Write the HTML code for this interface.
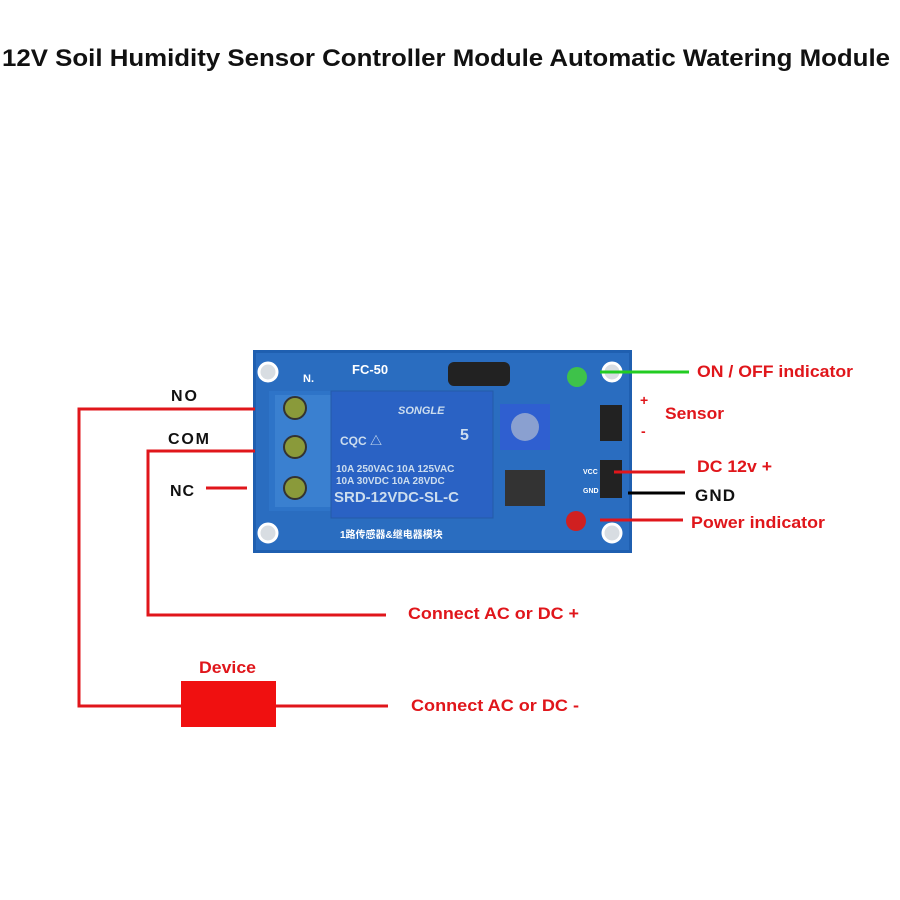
<!DOCTYPE html>
<html><head><meta charset="utf-8"><style>
body{margin:0;background:#fff}
svg{display:block}
text{font-family:"Liberation Sans","Noto Sans CJK SC",sans-serif;font-weight:bold}
</style></head><body>
<svg width="900" height="900" viewBox="0 0 900 900">
<rect width="900" height="900" fill="#fff"/>
<text x="2" y="66" font-size="24" textLength="888" lengthAdjust="spacingAndGlyphs" fill="#111">12V Soil Humidity Sensor Controller Module Automatic Watering Module</text>

<!-- board -->
<rect x="253" y="350" width="379" height="203" fill="#1f5fb0"/>
<rect x="256" y="353" width="373" height="197" fill="#2a6dc0"/>
<g fill="#d8dde2" stroke="#fff" stroke-width="3">
<circle cx="268" cy="372" r="9"/><circle cx="268" cy="533" r="9"/>
<circle cx="612" cy="372" r="9"/><circle cx="612" cy="533" r="9"/>
</g>
<text x="352" y="374" font-size="13" fill="#fff" font-weight="normal">FC-50</text>
<text x="303" y="382" font-size="11" fill="#fff">N.</text>
<rect x="269" y="391" width="62" height="120" fill="#2e74c8"/>
<rect x="275" y="395" width="58" height="112" fill="#3a80d0"/>
<g fill="#8a9a3a" stroke="#333" stroke-width="2">
<circle cx="295" cy="408" r="11"/><circle cx="295" cy="447" r="11"/><circle cx="295" cy="488" r="11"/>
</g>
<rect x="331" y="391" width="162" height="127" fill="#2a62c4" stroke="#245aa8"/>
<text x="398" y="414" font-size="11" fill="#cde" font-style="italic" font-weight="normal">SONGLE</text>
<text x="340" y="445" font-size="12" fill="#cde" font-weight="normal">CQC △</text>
<text x="460" y="440" font-size="16" fill="#cde" font-weight="normal">5</text>
<text x="336" y="472" font-size="10" fill="#cde" font-weight="normal">10A 250VAC  10A 125VAC</text>
<text x="336" y="484" font-size="10" fill="#cde" font-weight="normal">10A  30VDC  10A  28VDC</text>
<text x="334" y="502" font-size="15" fill="#cde" font-weight="normal">SRD-12VDC-SL-C</text>
<text x="340" y="538" font-size="10" fill="#fff" font-weight="normal">1路传感器&amp;继电器模块</text>
<rect x="448" y="362" width="62" height="24" rx="6" fill="#222"/>
<rect x="500" y="404" width="50" height="46" fill="#2f5fd0"/>
<circle cx="525" cy="427" r="14" fill="#8aa0d0"/>
<rect x="505" y="470" width="40" height="36" fill="#333"/>
<circle cx="577" cy="377" r="10" fill="#3ec24a"/>
<circle cx="576" cy="521" r="10" fill="#d02020"/>
<rect x="600" y="405" width="22" height="36" fill="#222"/>
<rect x="600" y="460" width="22" height="38" fill="#222"/>
<text x="583" y="474" font-size="7" fill="#fff">VCC</text>
<text x="583" y="493" font-size="7" fill="#fff">GND</text>

<g stroke="#e0161b" stroke-width="3" fill="none">
<polyline points="255,409 79,409 79,706 181,706"/>
<polyline points="255,451 148,451 148,615 386,615"/>
<line x1="206" y1="488" x2="247" y2="488"/>
<line x1="276" y1="706" x2="388" y2="706"/>
<line x1="614" y1="472" x2="685" y2="472"/>
<line x1="600" y1="520" x2="683" y2="520"/>
</g>
<line x1="600" y1="372" x2="689" y2="372" stroke="#22cc22" stroke-width="3"/>
<line x1="628" y1="493" x2="685" y2="493" stroke="#000" stroke-width="3"/>
<rect x="181" y="681" width="95" height="46" fill="#f01010"/>

<g font-size="16" fill="#111" lengthAdjust="spacingAndGlyphs">
<text x="171" y="401" textLength="26">NO</text>
<text x="168" y="444" textLength="41">COM</text>
<text x="170" y="496" textLength="24">NC</text>
<text x="695" y="501" font-size="17" textLength="40">GND</text>
</g>
<g font-size="17" fill="#e0161b">
<text x="697" y="377" textLength="156" lengthAdjust="spacingAndGlyphs">ON / OFF indicator</text>
<text x="640" y="405" font-size="14">+</text>
<text x="641" y="436" font-size="14">-</text>
<text x="665" y="419" textLength="59" lengthAdjust="spacingAndGlyphs">Sensor</text>
<text x="697" y="472" textLength="75" lengthAdjust="spacingAndGlyphs">DC 12v +</text>
<text x="691" y="528" textLength="134" lengthAdjust="spacingAndGlyphs">Power indicator</text>
<text x="408" y="619" textLength="171" lengthAdjust="spacingAndGlyphs">Connect AC or DC +</text>
<text x="411" y="711" textLength="168" lengthAdjust="spacingAndGlyphs">Connect AC or DC -</text>
<text x="199" y="673" textLength="57" lengthAdjust="spacingAndGlyphs">Device</text>
</g>
</svg>
</body></html>
